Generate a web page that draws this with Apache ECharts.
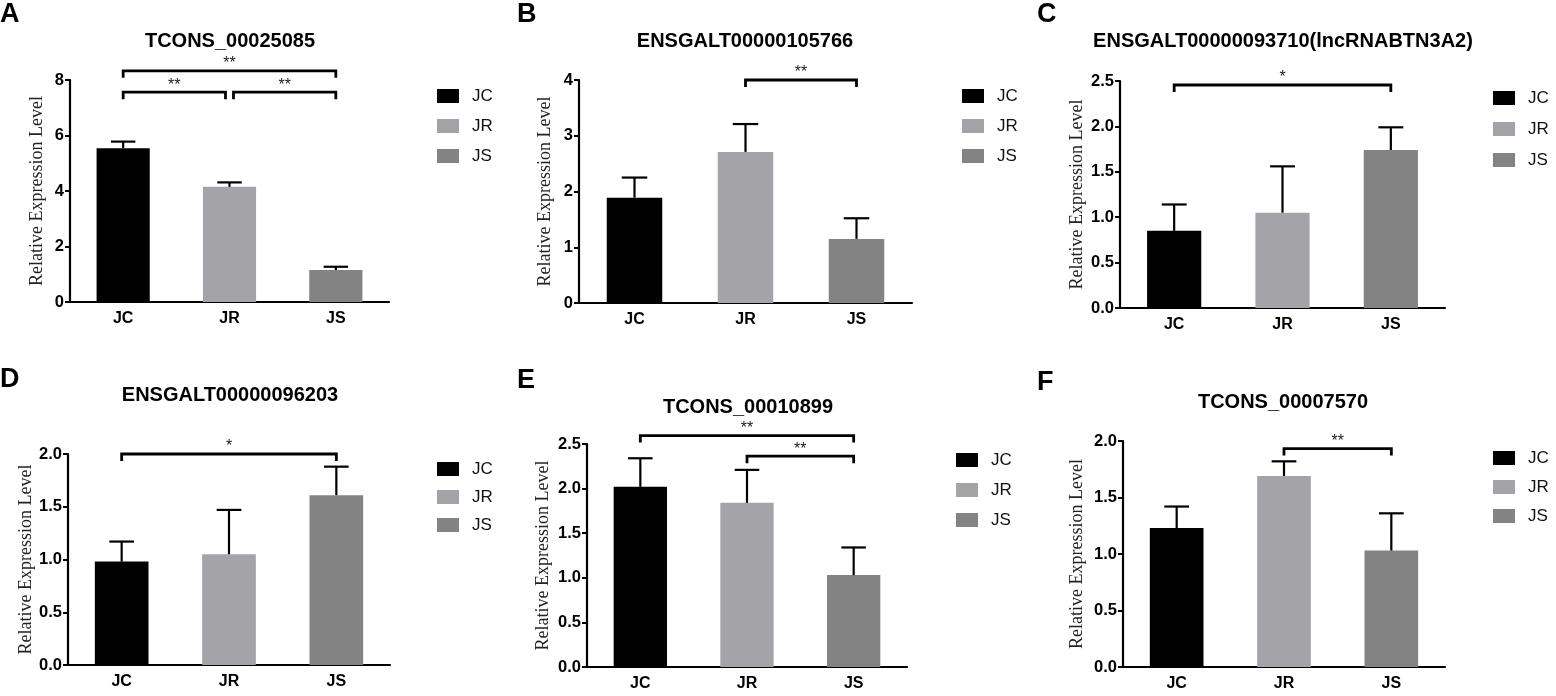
<!DOCTYPE html>
<html lang="en">
<head>
<meta charset="UTF-8">
<title>Relative Expression Level</title>
<script src="https://cdn.jsdelivr.net/npm/echarts@6.0.0/dist/echarts.min.js"></script>
<style>
  html, body { margin: 0; padding: 0; background: #fff; }
  #main { width: 1556px; height: 696px; }
</style>
</head>
<body>
<div id="main"></div>
<script type="text/javascript">
var groups = ['JC', 'JR', 'JS'];
var groupColors = ['#000000', '#a3a3a8', '#838383'];
var panelLetters = ['A', 'B', 'C', 'D', 'E', 'F'];
var panelTitles = ['TCONS_00025085', 'ENSGALT00000105766', 'ENSGALT00000093710(lncRNABTN3A2)',
    'ENSGALT00000096203', 'TCONS_00010899', 'TCONS_00007570'];

// mean and error (upper bar only)
var meanA = [5.54, 4.15, 1.15], errA = [0.24, 0.16, 0.12];
var meanB = [1.89, 2.71, 1.15], errB = [0.36, 0.50, 0.37];
var meanC = [0.85, 1.05, 1.74], errC = [0.29, 0.51, 0.25];
var meanD = [0.98, 1.05, 1.61], errD = [0.19, 0.42, 0.27];
var meanE = [2.02, 1.84, 1.03], errE = [0.32, 0.37, 0.31];
var meanF = [1.23, 1.69, 1.03], errF = [0.19, 0.13, 0.33];

var yMax = [8, 4, 2.5, 2.0, 2.5, 2.0];
var yStep = [2, 1, 0.5, 0.5, 0.5, 0.5];
var yDigits = [0, 0, 1, 1, 1, 1];

// significance brackets: [from group, to group, height, mark]
var sigA = [[0, 2, 8.33, '**'], [0, 1, 7.56, '**'], [1, 2, 7.56, '**']];
var sigB = [[1, 2, 4.0, '**']];
var sigC = [[0, 2, 2.456, '*']];
var sigD = [[0, 2, 2.0, '*']];
var sigE = [[0, 2, 2.595, '**'], [1, 2, 2.363, '**']];
var sigF = [[1, 2, 1.933, '**']];

var means = [meanA, meanB, meanC, meanD, meanE, meanF];
var errs = [errA, errB, errC, errD, errE, errF];
var sigs = [sigA, sigB, sigC, sigD, sigE, sigF];

// page layout of the six panels
var layout = [
    { grid: [70, 80, 319, 222], legend: [437, 87, 12], title: [230, 31], letter: [0, 1], nameGap: 24 },
    { grid: [579, 80, 333, 223], legend: [962, 87, 12], title: [745, 31], letter: [517, 1], nameGap: 25 },
    { grid: [1120, 81, 325, 227], legend: [1493, 89, 13], title: [1283, 31], letter: [1037, 1], nameGap: 34 },
    { grid: [68, 454, 322, 211], legend: [437, 460, 10], title: [230, 385], letter: [0, 366], nameGap: 31 },
    { grid: [587, 444, 320, 223], legend: [956, 451, 12], title: [748, 397], letter: [517, 367], nameGap: 35 },
    { grid: [1123, 441, 322, 226], legend: [1493, 449, 11], title: [1283, 392], letter: [1037, 369], nameGap: 37 }
];

var sansFont = 'Liberation Sans, Arial, sans-serif';
var option = { animation: false, backgroundColor: '#fff', title: [], grid: [], xAxis: [], yAxis: [], legend: [], series: [] };

function errorBarRenderer(params, api) {
    var x = api.value(0), m = api.value(1), e = api.value(2);
    var base = api.coord([x, m]);
    var top = api.coord([x, m + e]);
    var half = api.size([1, 0])[0] * 0.115;
    return {
        type: 'group',
        children: [
            { type: 'line', shape: { x1: base[0], y1: base[1], x2: top[0], y2: top[1] }, style: { stroke: '#000', lineWidth: 2.2 } },
            { type: 'line', shape: { x1: top[0] - half, y1: top[1], x2: top[0] + half, y2: top[1] }, style: { stroke: '#000', lineWidth: 2.2 } }
        ]
    };
}

function bracketRenderer(sig) {
    return function (params, api) {
        var b = sig[params.dataIndex];
        var p1 = api.coord([api.value(0), api.value(2)]);
        var p2 = api.coord([api.value(1), api.value(2)]);
        var x1 = p1[0], x2 = p2[0], y = p1[1];
        // leave a small gap where two brackets on the same level meet
        sig.forEach(function (o) {
            if (o !== b && o[2] === b[2]) {
                if (o[0] === b[1]) x2 -= 4;
                if (o[1] === b[0]) x1 += 4;
            }
        });
        return {
            type: 'group',
            children: [
                { type: 'polyline', shape: { points: [[x1, y + 7], [x1, y], [x2, y], [x2, y + 7]] },
                  style: { stroke: '#000', lineWidth: 2.8, fill: null, lineJoin: 'miter' } },
                { type: 'text', x: (x1 + x2) / 2, y: y - 7,
                  style: { text: b[3], fill: '#1a1a1a', fontSize: 16, fontFamily: sansFont, align: 'center', verticalAlign: 'middle' } }
            ]
        };
    };
}

for (var p = 0; p < 6; p++) {
    var L = layout[p];
    option.title.push({
        text: panelTitles[p], left: L.title[0], top: L.title[1], textAlign: 'center', padding: 0,
        textStyle: { fontFamily: sansFont, fontWeight: 'bold', fontSize: 20, color: '#000' }
    });
    option.title.push({
        text: panelLetters[p], left: L.letter[0], top: L.letter[1], padding: 0,
        textStyle: { fontFamily: sansFont, fontWeight: 'bold', fontSize: 27, color: '#000' }
    });
    option.grid.push({ left: L.grid[0], top: L.grid[1], width: L.grid[2], height: L.grid[3], containLabel: false, outerBoundsMode: 'none' });
    option.xAxis.push({
        type: 'category', gridIndex: p, data: groups,
        axisLine: { lineStyle: { color: '#000', width: 2.2 } },
        axisTick: { alignWithLabel: true, length: 5, lineStyle: { color: '#000', width: 2 } },
        axisLabel: { margin: 9, color: '#000', fontWeight: 'bold', fontSize: 16, fontFamily: sansFont },
        splitLine: { show: false }
    });
    (function (digits) {
        option.yAxis.push({
            type: 'value', gridIndex: p, min: 0, max: yMax[p], interval: yStep[p],
            name: 'Relative Expression Level', nameLocation: 'middle', nameGap: L.nameGap,
            nameTextStyle: { fontFamily: 'Liberation Serif, Times New Roman, serif', fontSize: 18, color: '#222' },
            axisLine: { show: true, lineStyle: { color: '#000', width: 2.2 } },
            axisTick: { show: true, length: 5, lineStyle: { color: '#000', width: 2 } },
            axisLabel: { margin: 6, color: '#000', fontWeight: 'bold', fontSize: 16.5, fontFamily: sansFont,
                formatter: function (v) { return v.toFixed(digits); } },
            splitLine: { show: false }
        });
    })(yDigits[p]);
    option.legend.push({
        left: L.legend[0], top: L.legend[1], orient: 'vertical', padding: 0, data: groups,
        icon: 'rect', itemWidth: 22, itemHeight: 14, itemGap: L.legend[2], selectedMode: false,
        textStyle: { fontSize: 17, fontFamily: sansFont, color: '#111', lineHeight: 18, padding: [0, 0, 0, 8] }
    });
    for (var g = 0; g < groups.length; g++) {
        option.series.push({
            type: 'bar', name: groups[g], xAxisIndex: p, yAxisIndex: p, silent: true,
            barWidth: '50%', barGap: '-100%',
            itemStyle: { color: groupColors[g] },
            data: means[p].map(function (v, i) { return i === g ? v : '-'; })
        });
    }
    option.series.push({
        type: 'custom', name: 'err' + p, xAxisIndex: p, yAxisIndex: p, silent: true, z: 5,
        encode: { x: 0, y: 1 },
        data: means[p].map(function (v, i) { return [i, v, errs[p][i]]; }),
        renderItem: errorBarRenderer
    });
    option.series.push({
        type: 'custom', name: 'sig' + p, xAxisIndex: p, yAxisIndex: p, silent: true, z: 5, clip: false,
        encode: { x: [0, 1], y: 2 },
        data: sigs[p].map(function (b) { return [b[0], b[1], b[2]]; }),
        renderItem: bracketRenderer(sigs[p])
    });
}

var myChart = echarts.init(document.getElementById('main'));
myChart.setOption(option);
</script>
</body>
</html>
